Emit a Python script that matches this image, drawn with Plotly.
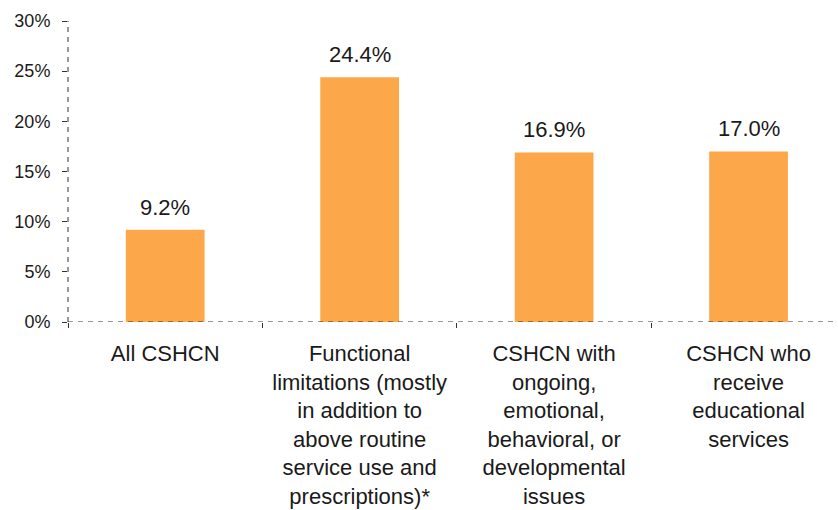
import plotly.graph_objects as go

# Share of children in each group (percent)
categories = [
    "All CSHCN",
    "Functional<br>limitations (mostly<br>in addition to<br>above routine<br>service use and<br>prescriptions)*",
    "CSHCN with<br>ongoing,<br>emotional,<br>behavioral, or<br>developmental<br>issues",
    "CSHCN who<br>receive<br>educational<br>services",
]
values = [9.2, 24.4, 16.9, 17.0]
y_tickvals = [0, 5, 10, 15, 20, 25, 30]
y_ticktext = ["0%", "5%", "10%", "15%", "20%", "25%", "30%"]

BAR_COLOR = "#FCA84A"
TEXT_COLOR = "#1a1a1a"
AXIS_COLOR = "#333333"
FONT = "Liberation Sans, Arial, sans-serif"

fig = go.Figure(
    go.Bar(
        x=categories,
        y=values,
        marker=dict(color=BAR_COLOR, line=dict(width=0)),
        width=0.405,
        hoverinfo="skip",
    )
)

# value labels above each bar
for cat, val in zip(categories, values):
    fig.add_annotation(
        x=cat, y=val, text=f"{val:.1f}%", showarrow=False,
        xref="x", yref="y", yanchor="bottom", yshift=8,
        font=dict(family=FONT, size=22, color=TEXT_COLOR),
    )

# dashed y-axis line and dashed baseline
fig.add_shape(type="line", xref="paper", yref="y", x0=0, x1=0, y0=0, y1=30,
              line=dict(color=AXIS_COLOR, width=1, dash="5px,5px"))
fig.add_shape(type="line", xref="paper", yref="y", x0=0, x1=1, y0=0, y1=0,
              line=dict(color=AXIS_COLOR, width=1, dash="5px,5px"))

fig.update_layout(
    width=838, height=510,
    margin=dict(l=68, r=0, t=21, b=188),
    plot_bgcolor="white", paper_bgcolor="white",
    showlegend=False,
    font=dict(family=FONT, color=TEXT_COLOR),
    xaxis=dict(
        range=[-0.5, 3.46],
        tickson="boundaries", ticks="outside", ticklen=5, tickcolor=AXIS_COLOR,
        ticklabelstandoff=16,
        showline=False, showgrid=False, zeroline=False,
        tickfont=dict(family=FONT, size=22, color=TEXT_COLOR),
    ),
    yaxis=dict(
        range=[0, 30],
        tickvals=y_tickvals, ticktext=y_ticktext,
        ticks="outside", ticklen=5, tickcolor=AXIS_COLOR,
        ticklabelstandoff=8,
        showline=False, showgrid=False, zeroline=False,
        tickfont=dict(family=FONT, size=18, color=TEXT_COLOR),
    ),
)

fig.write_html("out.html")
